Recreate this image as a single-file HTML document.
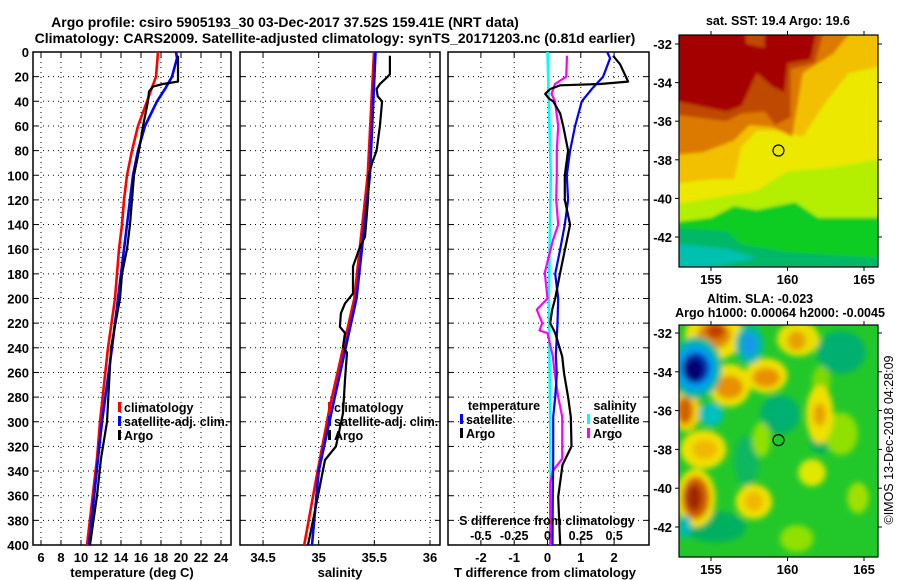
<!DOCTYPE html>
<html><head><meta charset="utf-8"><style>
html,body{margin:0;padding:0;background:#fff}
svg{display:block;font-family:"Liberation Sans",sans-serif;font-weight:bold}
</style></head><body>
<svg id="root" width="900" height="580" viewBox="0 0 900 580">
<defs>
<clipPath id="cp1"><rect x="33" y="52" width="198" height="493"/></clipPath>
<clipPath id="cp2"><rect x="240" y="52" width="200" height="493"/></clipPath>
<clipPath id="cp3"><rect x="448" y="52" width="201" height="493"/></clipPath>
<clipPath id="cpm1"><rect x="679" y="35" width="199" height="232"/></clipPath>
<clipPath id="cpm2"><rect x="679" y="325" width="199" height="232"/></clipPath>
<filter id="bl1" x="-10%" y="-10%" width="120%" height="120%"><feGaussianBlur stdDeviation="1.5"/></filter>
<filter id="bl2" x="-50%" y="-50%" width="200%" height="200%"><feGaussianBlur stdDeviation="3"/></filter>
</defs>
<text x="285" y="27" font-size="14" text-anchor="middle">Argo profile: csiro 5905193_30 03-Dec-2017 37.52S 159.41E (NRT data)</text>
<text x="335" y="43" font-size="14" text-anchor="middle">Climatology: CARS2009. Satellite-adjusted climatology: synTS_20171203.nc (0.81d earlier)</text>
<g id="g"></g>
</svg>
<script>
// ---- data ----
const depthTClim = [0,20,40,60,80,100,120,140,160,180,200,240,300,330,400];
const tempClim   = [17.7,17.5,16.6,15.7,15.1,14.6,14.3,14.1,13.8,13.6,13.4,12.7,11.9,11.6,10.6];
const depthTSat  = [0,5,20,30,40,60,80,100,120,140,160,180,200,240,300,330,400];
const tempSat    = [19.5,19.6,19.1,18.4,17.6,16.4,15.7,15.2,14.9,14.6,14.3,14.0,13.7,13.1,12.1,11.7,10.8];
const depthArgo  = [3,24,26,28,32,40,60,80,100,120,140,160,180,200,240,300,330,360,400];
const tempArgo   = [19.7,19.7,18.2,17.2,16.8,16.7,16.2,15.8,15.3,15.1,14.9,14.6,14.1,13.9,13.0,12.6,12.0,11.6,10.9];

const depthSClim = [0,100,200,288,340,400];
const salClim    = [35.497,35.44,35.32,35.1,34.99,34.87];
const depthSSat  = [0,100,200,288,340,400];
const salSat     = [35.51,35.46,35.34,35.125,35.0,34.94];
const depthSArgo = [3,18,20,26,30,36,40,60,80,90,100,120,150,158,174,196,204,212,223,228,239,244,266,293,309,320,331,360,400];
const salArgo    = [35.64,35.64,35.62,35.55,35.52,35.53,35.57,35.55,35.52,35.48,35.45,35.443,35.416,35.371,35.308,35.308,35.236,35.2,35.191,35.236,35.218,35.254,35.236,35.218,35.182,35.155,35.057,34.994,34.904];

const depthDT    = [0,5,20,30,40,60,80,100,120,140,160,180,200,220,247,261,280,296,330,360,400];
const dTSat      = [1.79,1.88,1.67,1.33,1.03,0.83,0.68,0.58,0.62,0.52,0.38,0.23,0.32,0.3,0.25,0.28,0.23,0.17,0.17,0.16,0.15];
const depthDTA   = [3,10,24,26,27,30,34,38,40,50,60,80,100,120,140,153,179,200,209,220,228,247,261,280,296,320,335,361,400];
const dTArgo     = [1.97,2.18,2.42,1.58,0.38,0.08,-0.07,0.05,0.17,0.38,0.47,0.62,0.52,0.52,0.68,0.58,0.38,0.23,0.14,0.08,0.23,0.44,0.5,0.62,0.7,0.72,0.45,0.32,0.38];
const depthDS    = [0,100,200,300,400];
const dSSat      = [0.0,0.025,0.01,0.02,0.025];
const depthDSA   = [3,20,26,34,40,60,80,100,120,140,153,179,200,209,220,226,228,247,261,280,296,330,340,350,400];
const dSArgo     = [0.146,0.14,0.056,0.03,0.056,0.08,0.07,0.07,0.065,0.08,0.04,-0.02,0.0,-0.08,-0.04,-0.06,0.0,0.04,0.055,0.08,0.11,0.11,0.04,0.02,0.02];

const depthTicks = [0,20,40,60,80,100,120,140,160,180,200,220,240,260,280,300,320,340,360,380,400];
const tTicks = [6,8,10,12,14,16,18,20,22,24];
const sTicks = [34.5,35,35.5,36];
const dTTicks = [-2,-1,0,1,2];
const dSTicks = [-0.5,-0.25,0,0.25,0.5];
const lonTicks = [155,160,165];
const latTicks = [-32,-34,-36,-38,-40,-42];

// ---- helpers ----
const NS = 'http://www.w3.org/2000/svg';
const G = document.getElementById('g');
function mk(tag, attrs, parent, txt){
  const e = document.createElementNS(NS, tag);
  for (const k in attrs) e.setAttribute(k, attrs[k]);
  if (txt !== undefined) e.textContent = txt;
  (parent || G).appendChild(e);
  return e;
}
const Y0 = 52, Y1 = 545;
const yD = d => Y0 + d * (Y1 - Y0) / 400;
const xT = t => 33 + (t - 5.2) * 10;
const xS = s => 240 + (s - 34.293) * 111.3;
const xDT = v => 547.5 + v * 33.3;
const xDS = v => 547.5 + v * 133.3;

function panel(name, x0, x1, xticks, xf, showY){
  const grp = mk('g', {});
  
  
  for (const t of xticks) {
    const x = xf(t);
    const gl = mk('line', {x1:x, x2:x, y1:Y0, y2:Y1, stroke:'#000', 'stroke-width':1, 'stroke-dasharray':'1 4'}, grp);
    
    
    mk('line', {x1:x, x2:x, y1:Y1, y2:Y1-5, stroke:'#000'}, grp);
    mk('line', {x1:x, x2:x, y1:Y0, y2:Y0+5, stroke:'#000'}, grp);
  }
  for (const d of depthTicks) {
    const y = yD(d);
    const gl = mk('line', {x1:x0, x2:x1, y1:y, y2:y, stroke:'#000', 'stroke-width':1, 'stroke-dasharray':'1 4'}, grp);
    
    
    mk('line', {x1:x0, x2:x0+5, y1:y, y2:y, stroke:'#000'}, grp);
    mk('line', {x1:x1, x2:x1-5, y1:y, y2:y, stroke:'#000'}, grp);
    if (showY) {
      const tl = mk('text', {x:x0-4, y:y+5, 'font-size':13, 'text-anchor':'end'}, grp, String(d));
      
      
    }
  }
  const fr = mk('rect', {x:x0, y:Y0, width:x1-x0, height:Y1-Y0, fill:'none', stroke:'#000', 'stroke-width':1.5}, grp);
  
  
  return grp;
}
function series(name, xs, ds, xf, color, w, clip){
  const pts = xs.map((v,i) => xf(v).toFixed(1) + ',' + yD(ds[i]).toFixed(1)).join(' ');
  const p = mk('polyline', {points:pts, fill:'none', stroke:color, 'stroke-width':w, 'stroke-linejoin':'round', 'clip-path':'url(#'+clip+')'});
  
  
}
function label(name, x, y, txt, size, anchor){
  const t = mk('text', {x:x, y:y, 'font-size':size||13, 'text-anchor':anchor||'middle'}, G, txt);
  
  
  return t;
}
function legend(name, x, y, color, txt){
  const g = mk('g', {});
  
  
  mk('rect', {x:x, y:y-10, width:3, height:10, fill:color}, g);
  mk('text', {x:x+6, y:y, 'font-size':12.5}, g, txt);
}

// panel 1: temperature
panel('temperature-panel', 33, 231, tTicks, xT, true);
tTicks.forEach(t => label('temperature-tick-label', xT(t), 562, String(t), 13));
label('x-axis-title-temperature', 132, 577, 'temperature (deg C)', 13);
series('temperature-climatology-line', tempClim, depthTClim, xT, '#f00', 2.6, 'cp1');
series('temperature-satellite-line', tempSat, depthTSat, xT, '#00f', 2.6, 'cp1');
series('temperature-argo-line', tempArgo, depthArgo, xT, '#000', 2.2, 'cp1');
legend('legend-climatology', 118, 412, '#f00', 'climatology');
legend('legend-satellite-adj', 118, 426, '#00f', 'satellite-adj. clim.');
legend('legend-argo', 118, 440, '#000', 'Argo');

// panel 2: salinity
panel('salinity-panel', 240, 440, sTicks, xS, false);
sTicks.forEach(t => label('salinity-tick-label', xS(t), 562, String(t), 13));
label('x-axis-title-salinity', 340, 577, 'salinity', 13);
series('salinity-climatology-line', salClim, depthSClim, xS, '#f00', 2.6, 'cp2');
series('salinity-satellite-line', salSat, depthSSat, xS, '#00f', 2.6, 'cp2');
series('salinity-argo-line', salArgo, depthSArgo, xS, '#000', 2.2, 'cp2');
legend('legend-climatology-s', 328, 412, '#f00', 'climatology');
legend('legend-satellite-adj-s', 328, 426, '#00f', 'satellite-adj. clim.');
legend('legend-argo-s', 328, 440, '#000', 'Argo');

// panel 3: differences
panel('difference-panel', 448, 649, dTTicks, xDT, false);
dTTicks.forEach(t => label('t-diff-tick-label', xDT(t), 562, String(t), 13));
label('x-axis-title-t-diff', 545, 577, 'T difference from climatology', 13);
series('s-diff-satellite-line', dSSat, depthDS, xDS, '#0ff', 2.6, 'cp3');
series('s-diff-argo-line', dSArgo, depthDSA, xDS, '#f0f', 2.2, 'cp3');
series('t-diff-satellite-line', dTSat, depthDT, xDT, '#00f', 2.2, 'cp3');
series('t-diff-argo-line', dTArgo, depthDTA, xDT, '#000', 2.2, 'cp3');
label('s-diff-axis-title', 547, 525, 'S difference from climatology', 12.5);
dSTicks.forEach(t => label('s-diff-tick-label', xDS(t), 540, String(t), 12.5));
label('legend-temperature-title', 504, 410, 'temperature', 12.5);
legend('legend-t-satellite', 460, 424, '#00f', 'satellite');
legend('legend-t-argo', 460, 438, '#000', 'Argo');
label('legend-salinity-title', 615, 410, 'salinity', 12.5);
legend('legend-s-satellite', 587, 424, '#0ff', 'satellite');
legend('legend-s-argo', 587, 438, '#f0f', 'Argo');

// ---- maps ----
const lonX = lon => 711 + (lon - 155) * 15.3;
const latY1 = lat => 44 + (-32 - lat) * 19.3;
const latY2 = lat => 333 + (-32 - lat) * 19.4;
function poly(parent, pts, fy, fill){
  mk('polygon', {points: pts.map(p => lonX(p[0]).toFixed(1)+','+fy(p[1]).toFixed(1)).join(' '), fill:fill}, parent);
}
// map 1 SST
const m1 = mk('g', {'clip-path':'url(#cpm1)'});


const m1i = mk('g', {filter:'url(#bl1)'}, m1);
mk('rect', {x:670, y:25, width:220, height:250, fill:'#ece800'}, m1i);
poly(m1i, [[152,-31],[167,-31],[167,-33],[164,-33.5],[162.5,-35],[161,-36.8],[159.5,-36.5],[158,-36.5],[157,-37.3],[156.5,-39],[155,-39],[152,-39.3]], latY1, '#f2c000');
poly(m1i, [[152,-31],[164.5,-31],[163,-32.5],[161,-33.5],[160.3,-36.8],[159,-36.3],[157.5,-36.2],[156.5,-37],[154.5,-37.6],[152,-37.8]], latY1, '#dc7a00');
poly(m1i, [[152,-31],[162.5,-31],[161.8,-33],[160.2,-33.3],[160.2,-35.8],[159.2,-36.2],[158.5,-35.5],[157,-35.6],[156,-36],[152,-35.6]], latY1, '#c04800');
poly(m1i, [[152,-31],[157.2,-31],[157.3,-32],[158.5,-32.2],[158.5,-31],[162,-31],[161.5,-32.8],[160,-33],[159.8,-34.5],[159,-34.2],[158,-33.5],[157,-35.2],[156,-35.5],[153,-35],[152,-35]], latY1, '#a50000');
poly(m1i, [[152,-40.4],[155,-40],[158,-39.6],[160,-38.6],[163,-38.4],[167,-37.8],[167,-44],[152,-44]], latY1, '#b4ee00');
poly(m1i, [[152,-41.3],[155,-41],[156.5,-40.4],[158,-40.6],[160.5,-40.2],[162,-41],[167,-41],[167,-44],[152,-44]], latY1, '#10cc20');
poly(m1i, [[152,-41.5],[156,-41.7],[157,-42.4],[160,-42.8],[166,-43.1],[167,-44],[152,-44]], latY1, '#00b868');
poly(m1i, [[152,-42.3],[156,-42.6],[158,-43.1],[152,-44]], latY1, '#00c0b0');
mk('circle', {cx:lonX(159.41), cy:latY1(-37.52), r:5.5, fill:'none', stroke:'#000', 'stroke-width':1.2}, m1);

// map 2 SLA
const m2 = mk('g', {'clip-path':'url(#cpm2)'});


mk('rect', {x:670, y:315, width:220, height:250, fill:'#22c82a'}, m2);
const m2i = mk('g', {filter:'url(#bl2)'}, m2);
function blob(lon, lat, rx, ry, col){
  mk('ellipse', {cx:lonX(lon), cy:latY2(lat), rx:rx*15.3, ry:ry*19.4, fill:col}, m2i);
}
[[163.5,-33,1.6,1.1,'#00b070'],[159.5,-36.2,1.3,1,'#00b070'],[157.3,-38.6,0.8,1.3,'#10b860'],[162.2,-37.6,0.8,0.6,'#00b060'],[155.3,-42,2,0.8,'#00b060'],
 [163.5,-37.2,1.1,1.1,'#90e000'],[158.3,-37.5,0.6,0.9,'#90e000'],[160.6,-42.6,1.1,0.7,'#90e000'],[164.6,-40.5,0.7,0.8,'#a0e000'],[162.2,-34.5,0.6,0.8,'#80d800'],
 [155.2,-32.1,1.9,1.3,'#f0e000'],[156.2,-34.7,1.4,1.1,'#f0e000'],[158.6,-34.2,1.4,0.9,'#f0e000'],[160.7,-32.3,1.4,0.9,'#e8e000'],[153.4,-36,0.9,1.1,'#f0d000'],
 [154.5,-38,1.5,1,'#f0e000'],[154,-40.5,1.3,1.5,'#f0e000'],[157.8,-40.7,1.2,0.9,'#f0e000'],[161.6,-39.2,0.9,0.7,'#e0e800'],[162.1,-36.2,0.9,1.5,'#f0e000'],
 [155.2,-32.1,1.1,0.7,'#e08800'],[156.2,-34.8,0.9,0.6,'#e89000'],[158.6,-34.3,0.9,0.5,'#e89000'],[160.6,-32.4,0.6,0.5,'#e8a000'],[153.3,-36,0.5,0.7,'#d06000'],
 [154.6,-38,0.8,0.5,'#f0b800'],[154,-40.5,0.9,1.1,'#d06000'],[157.8,-40.7,0.6,0.5,'#f0b800'],[162.1,-36.2,0.4,0.6,'#e8a000'],
 [155.3,-31.9,0.6,0.4,'#c04000'],[153.9,-40.5,0.5,0.7,'#a02800'],
 [154,-33.8,1.7,1.6,'#00b898'],[154,-33.8,1.3,1.2,'#00a0f0'],[154,-33.8,0.9,0.8,'#0030b0'],[153.9,-33.9,0.6,0.6,'#000070'],
 [157.5,-32.6,0.9,1,'#00b8b0'],[157.5,-32.6,0.5,0.6,'#1898e8'],[155,-36.2,0.8,0.6,'#00c0c0'],[153.3,-42,0.4,0.6,'#00b8b8']
].forEach(b => blob(b[0], b[1], b[2], b[3], b[4]));
mk('circle', {cx:lonX(159.41), cy:latY2(-37.52), r:5.5, fill:'none', stroke:'#000', 'stroke-width':1.2}, m2);

function mapAxes(name, fy, top, bot){
  const g = mk('g', {});
  
  
  mk('rect', {x:679, y:top, width:199, height:bot-top, fill:'none', stroke:'#000', 'stroke-width':1.2}, g);
  lonTicks.forEach(l => {
    const x = lonX(l);
    mk('line', {x1:x, x2:x, y1:bot, y2:bot+4, stroke:'#000'}, g);
    mk('line', {x1:x, x2:x, y1:top, y2:top-4, stroke:'#000'}, g);
    mk('text', {x:x, y:bot+17, 'font-size':13, 'text-anchor':'middle'}, g, String(l));
  });
  latTicks.forEach(l => {
    const y = fy(l);
    mk('line', {x1:675, x2:679, y1:y, y2:y, stroke:'#000'}, g);
    mk('line', {x1:878, x2:882, y1:y, y2:y, stroke:'#000'}, g);
    mk('text', {x:672, y:y+5, 'font-size':13, 'text-anchor':'end'}, g, String(l));
  });
}
mapAxes('sst-map-axes', latY1, 35, 267);
mapAxes('sla-map-axes', latY2, 325, 557);
label('sst-map-title', 778, 25, 'sat. SST: 19.4 Argo: 19.6', 12.5);
label('sla-map-title-1', 760, 303, 'Altim. SLA: -0.023', 12.5);
label('sla-map-title-2', 780, 317, 'Argo h1000: 0.00064 h2000: -0.0045', 12.5);
const cr = mk('text', {x:0, y:0, 'font-size':12.5, 'font-weight':'normal', 'text-anchor':'middle', transform:'translate(893,440) rotate(-90)'}, G, '©IMOS 13-Dec-2018 04:28:09');


</script>
</body></html>
